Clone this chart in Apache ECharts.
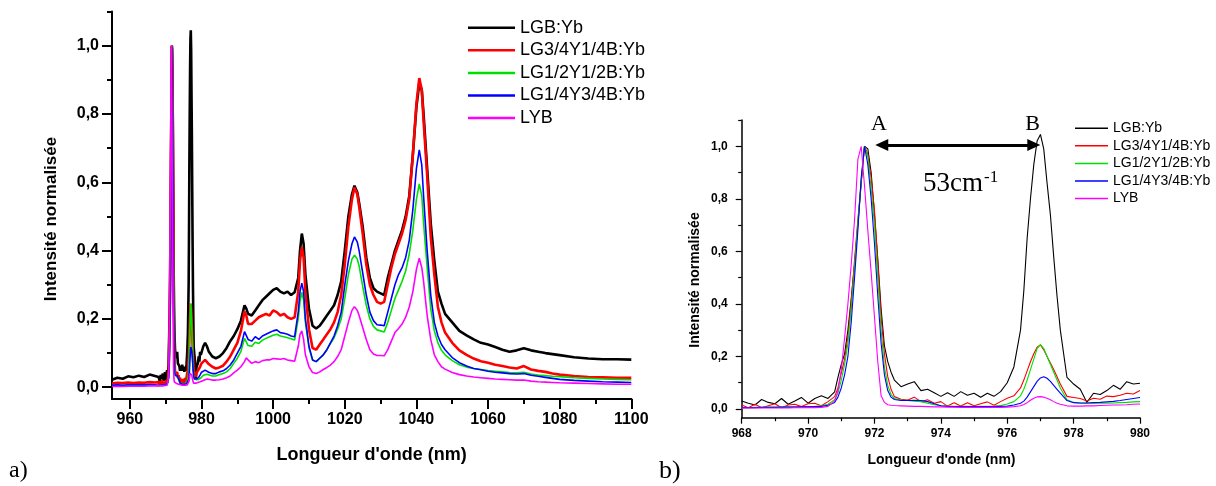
<!DOCTYPE html>
<html><head><meta charset="utf-8">
<script src="https://cdn.jsdelivr.net/npm/echarts@6/dist/echarts.min.js"></script>
<style>html,body{margin:0;padding:0;background:#fff}#c{width:1216px;height:486px}</style>
</head><body><div id="c"></div>
<script>
// ---------- DATA ----------
const wl = [
  955, 956.5, 958, 959.5, 961, 962.5, 964, 965.5, 967,
  968.0, 968.2, 968.4, 968.6, 968.8, 969.0, 969.2, 969.4, 969.6, 969.8, 970.0, 970.2, 970.4, 970.6, 970.8,
  970.9, 971.0, 971.1, 971.2, 971.3, 971.4, 971.5, 971.6, 971.7, 971.8, 971.9, 972.0, 972.1, 972.2, 972.3, 972.4, 972.5, 972.6,
  972.8, 973.0, 973.2, 973.4, 973.6, 973.8, 974.0, 974.2, 974.4, 974.6, 974.8, 975.0, 975.2, 975.4, 975.6, 975.8, 976.0, 976.2, 976.4,
  976.5, 976.6, 976.7, 976.8, 976.9, 977.0, 977.1, 977.2, 977.3, 977.4, 977.5, 977.6,
  977.8, 978.0, 978.2, 978.4, 978.6, 978.8, 979.0, 979.2, 979.4, 979.6, 979.8, 980.0,
  980.5, 981, 981.5, 982,
  983, 984, 985, 986, 987, 988, 989, 990, 991,
  992, 992.5,
  993, 994, 995, 996, 997, 998, 999, 1000, 1001, 1002, 1003, 1004, 1005, 1006, 1007,
  1007.5, 1008, 1008.5,
  1009, 1010, 1011, 1012, 1013, 1014, 1015, 1016, 1017, 1018, 1019, 1020, 1021, 1022,
  1022.7, 1023.5,
  1024, 1025, 1026, 1027, 1028, 1029, 1030, 1031, 1032, 1033, 1034, 1035, 1036, 1037, 1038, 1039, 1040,
  1040.8, 1041.5,
  1042, 1043, 1044, 1045, 1046, 1047, 1048,
  1050, 1052, 1054, 1056, 1058, 1060, 1062, 1064, 1066, 1068, 1070, 1072, 1074, 1076, 1078, 1080,
  1084, 1088, 1092, 1096, 1100
];

const lgb = [
  0.022, 0.028, 0.025, 0.032, 0.029, 0.034, 0.030, 0.037, 0.033,
  0.030, 0.022, 0.015, 0.036, 0.025, 0.020, 0.040, 0.018, 0.030, 0.044, 0.022, 0.040, 0.050, 0.040, 0.065,
  0.12, 0.17, 0.21, 0.30, 0.42, 0.55, 0.70, 0.86, 1.00, 0.99, 0.90, 0.74, 0.57, 0.38, 0.24, 0.18, 0.14, 0.11,
  0.085, 0.095, 0.104, 0.070, 0.075, 0.062, 0.048, 0.062, 0.048, 0.066, 0.052, 0.060, 0.045, 0.060, 0.048, 0.066, 0.100, 0.160, 0.300,
  0.45, 0.65, 0.80, 0.93, 1.02, 1.045, 0.99, 0.86, 0.74, 0.58, 0.43, 0.30,
  0.12, 0.095, 0.075, 0.025, 0.060, 0.055, 0.070, 0.090, 0.075, 0.104, 0.095, 0.098,
  0.12, 0.13, 0.12, 0.105,
  0.09, 0.085, 0.09, 0.10, 0.115, 0.135, 0.15, 0.17, 0.195,
  0.24, 0.23,
  0.215, 0.21, 0.225, 0.24, 0.255, 0.265, 0.275, 0.285, 0.29, 0.28, 0.275, 0.28, 0.27, 0.278, 0.32,
  0.40, 0.45, 0.42,
  0.33, 0.23, 0.18, 0.172, 0.18, 0.195, 0.21, 0.225, 0.24, 0.27, 0.31, 0.40, 0.50, 0.565,
  0.59, 0.57,
  0.54, 0.47, 0.38, 0.32, 0.29, 0.28, 0.275, 0.27, 0.32, 0.36, 0.40, 0.43, 0.46, 0.50, 0.56, 0.68, 0.82,
  0.89, 0.87,
  0.80, 0.64, 0.48, 0.37, 0.28, 0.245, 0.215,
  0.19, 0.165, 0.152, 0.14, 0.13, 0.125, 0.118, 0.11, 0.104, 0.108, 0.114, 0.108, 0.104, 0.10, 0.097, 0.094,
  0.088, 0.084, 0.082, 0.082, 0.081
];

const lg34 = [
  0.011, 0.013, 0.012, 0.014, 0.012, 0.014, 0.013, 0.015, 0.014,
  0.015, 0.005, 0.018, 0.005, 0.012, 0.020, 0.005, 0.015, 0.018, 0.009, 0.020, 0.022, 0.012, 0.028, 0.047,
  0.08, 0.136, 0.19, 0.275, 0.41, 0.567, 0.72, 0.86, 1.00, 0.97, 0.88, 0.757, 0.56, 0.35, 0.21, 0.123, 0.075, 0.047,
  0.037, 0.034, 0.045, 0.028, 0.035, 0.022, 0.028, 0.011, 0.024, 0.011, 0.024, 0.012, 0.020, 0.027, 0.014, 0.028, 0.041, 0.050, 0.080,
  0.11, 0.145, 0.18, 0.21, 0.235, 0.244, 0.225, 0.20, 0.175, 0.15, 0.123, 0.095,
  0.048, 0.044, 0.040, 0.030, 0.041, 0.037, 0.049, 0.047, 0.052, 0.060, 0.057, 0.070,
  0.075, 0.08, 0.075, 0.068,
  0.06, 0.055, 0.058, 0.063, 0.075, 0.09, 0.11, 0.13, 0.165,
  0.222, 0.21,
  0.185, 0.185, 0.195, 0.205, 0.21, 0.215, 0.21, 0.225, 0.22, 0.21, 0.215, 0.205, 0.20, 0.205, 0.28,
  0.37, 0.41, 0.38,
  0.28, 0.17, 0.115, 0.11, 0.125, 0.14, 0.155, 0.17, 0.19, 0.22, 0.27, 0.36, 0.47, 0.55,
  0.585, 0.565,
  0.53, 0.45, 0.36, 0.30, 0.27, 0.25, 0.245, 0.25, 0.30, 0.35, 0.39, 0.42, 0.45, 0.49, 0.55, 0.68, 0.83,
  0.905, 0.87,
  0.78, 0.62, 0.44, 0.33, 0.235, 0.19, 0.16,
  0.13, 0.108, 0.095, 0.084, 0.076, 0.072, 0.066, 0.062, 0.058, 0.055, 0.062, 0.052, 0.048, 0.045, 0.04, 0.037,
  0.033, 0.03, 0.029, 0.028, 0.028
];

const lg12 = [
  0.005, 0.006, 0.005, 0.006, 0.006, 0.006, 0.006, 0.007, 0.006,
  0.005, 0.005, 0.006, 0.006, 0.007, 0.007, 0.007, 0.008, 0.008, 0.008, 0.009, 0.010, 0.012, 0.018, 0.035,
  0.06, 0.11, 0.17, 0.25, 0.38, 0.54, 0.71, 0.87, 1.00, 0.96, 0.84, 0.70, 0.50, 0.30, 0.16, 0.09, 0.055, 0.04,
  0.034, 0.032, 0.030, 0.028, 0.022, 0.016, 0.012, 0.011, 0.010, 0.010, 0.010, 0.010, 0.010, 0.010, 0.011, 0.013, 0.019, 0.028, 0.050,
  0.075, 0.11, 0.15, 0.19, 0.23, 0.245, 0.23, 0.20, 0.17, 0.14, 0.11, 0.08,
  0.035, 0.025, 0.022, 0.022, 0.022, 0.022, 0.022, 0.023, 0.024, 0.025, 0.027, 0.028,
  0.035, 0.04, 0.038, 0.035,
  0.033, 0.033, 0.037, 0.04, 0.045, 0.055, 0.07, 0.085, 0.105,
  0.143, 0.14,
  0.122, 0.12, 0.132, 0.128, 0.138, 0.143, 0.148, 0.152, 0.155, 0.15, 0.148, 0.145, 0.142, 0.138, 0.20,
  0.25, 0.278, 0.255,
  0.19, 0.115, 0.08, 0.075, 0.085, 0.095, 0.11, 0.128, 0.145, 0.17, 0.20, 0.26, 0.33, 0.375,
  0.387, 0.375,
  0.355, 0.295, 0.24, 0.20, 0.178, 0.168, 0.165, 0.162, 0.19, 0.225, 0.26, 0.285, 0.31, 0.34, 0.39, 0.46, 0.55,
  0.595, 0.56,
  0.48, 0.35, 0.23, 0.165, 0.13, 0.108, 0.095,
  0.078, 0.066, 0.059, 0.055, 0.052, 0.049, 0.047, 0.045, 0.043, 0.042, 0.044, 0.039, 0.036, 0.034, 0.032, 0.031,
  0.028, 0.026, 0.024, 0.023, 0.022
];

const lg14 = [
  0.006, 0.007, 0.006, 0.007, 0.007, 0.007, 0.007, 0.008, 0.007,
  0.005, 0.005, 0.005, 0.006, 0.006, 0.006, 0.007, 0.007, 0.007, 0.008, 0.008, 0.009, 0.010, 0.014, 0.025,
  0.045, 0.08, 0.13, 0.20, 0.33, 0.50, 0.68, 0.88, 1.00, 0.93, 0.80, 0.63, 0.43, 0.25, 0.13, 0.07, 0.045, 0.036,
  0.032, 0.032, 0.033, 0.032, 0.028, 0.020, 0.012, 0.010, 0.009, 0.009, 0.009, 0.009, 0.009, 0.009, 0.009, 0.010, 0.011, 0.015, 0.022,
  0.030, 0.045, 0.065, 0.085, 0.105, 0.118, 0.123, 0.117, 0.105, 0.090, 0.075, 0.060,
  0.032, 0.024, 0.023, 0.023, 0.024, 0.025, 0.027, 0.029, 0.032, 0.036, 0.040, 0.044,
  0.045, 0.05, 0.048, 0.044,
  0.04, 0.04, 0.045, 0.048, 0.055, 0.065, 0.08, 0.10, 0.12,
  0.163, 0.16,
  0.14, 0.135, 0.148, 0.14, 0.15, 0.155, 0.16, 0.165, 0.168, 0.16, 0.158, 0.155, 0.15, 0.148, 0.22,
  0.28, 0.305, 0.28,
  0.20, 0.12, 0.08, 0.075, 0.085, 0.095, 0.11, 0.13, 0.15, 0.18, 0.22, 0.30, 0.37, 0.42,
  0.44, 0.425,
  0.40, 0.335, 0.27, 0.22, 0.195, 0.183, 0.182, 0.18, 0.22, 0.26, 0.30, 0.33, 0.35, 0.38, 0.43, 0.52, 0.64,
  0.695, 0.65,
  0.56, 0.40, 0.27, 0.19, 0.15, 0.125, 0.11,
  0.087, 0.072, 0.062, 0.055, 0.051, 0.047, 0.044, 0.042, 0.04, 0.039, 0.04, 0.035, 0.032, 0.029, 0.026, 0.023,
  0.02, 0.018, 0.016, 0.015, 0.014
];

const lyb = [
  0.002, 0.003, 0.002, 0.003, 0.003, 0.003, 0.003, 0.004, 0.004,
  0.004, 0.004, 0.004, 0.004, 0.004, 0.004, 0.004, 0.004, 0.005, 0.005, 0.005, 0.005, 0.006, 0.010, 0.030,
  0.07, 0.15, 0.27, 0.40, 0.55, 0.72, 0.95, 1.00, 0.85, 0.68, 0.52, 0.35, 0.18, 0.05, 0.025, 0.016, 0.014, 0.013,
  0.012, 0.011, 0.010, 0.010, 0.009, 0.008, 0.008, 0.007, 0.007, 0.006, 0.006, 0.006, 0.006, 0.006, 0.006, 0.006, 0.007, 0.009, 0.012,
  0.017, 0.024, 0.033, 0.041, 0.046, 0.047, 0.045, 0.041, 0.035, 0.028, 0.022, 0.018,
  0.012, 0.011, 0.011, 0.012, 0.012, 0.013, 0.014, 0.015, 0.015, 0.016, 0.018, 0.019,
  0.02, 0.024, 0.024, 0.022,
  0.021, 0.021, 0.022, 0.024, 0.028, 0.033, 0.042, 0.05, 0.06,
  0.075, 0.086,
  0.08, 0.07, 0.075, 0.072, 0.078, 0.08, 0.08, 0.084, 0.083, 0.082, 0.084, 0.08, 0.078, 0.076, 0.12,
  0.155, 0.165, 0.14,
  0.095, 0.06, 0.043, 0.04, 0.045, 0.052, 0.058, 0.065, 0.075, 0.09, 0.11, 0.15, 0.19, 0.225,
  0.236, 0.225,
  0.21, 0.175, 0.14, 0.11, 0.097, 0.093, 0.093, 0.092, 0.11, 0.135, 0.16, 0.172, 0.185, 0.205, 0.235, 0.28, 0.345,
  0.378, 0.35,
  0.31, 0.21, 0.14, 0.095, 0.075, 0.06, 0.053,
  0.043, 0.037, 0.033, 0.03, 0.028, 0.026, 0.024, 0.023, 0.022, 0.021, 0.021, 0.018, 0.016, 0.015, 0.014, 0.013,
  0.012, 0.011, 0.01, 0.009, 0.009
];

const seriesNames = ['LGB:Yb', 'LG3/4Y1/4B:Yb', 'LG1/2Y1/2B:Yb', 'LG1/4Y3/4B:Yb', 'LYB'];
const seriesValues = [lgb, lg34, lg12, lg14, lyb];

const yTicksMajor = [0, 0.2, 0.4, 0.6, 0.8, 1.0];
const yTicksMinor = [0.1, 0.3, 0.5, 0.7, 0.9, 1.1];
const xTicksA = [960, 980, 1000, 1020, 1040, 1060, 1080, 1100];
const xMinorA = [970, 990, 1010, 1030, 1050, 1070, 1090];
const xTicksB = [968, 970, 972, 974, 976, 978, 980];
const xMinorB = [969, 971, 973, 975, 977, 979];

const arrowFrom = 972.22, arrowTo = 976.80, arrowLevel = 1.005;

// ---------- CHART ----------
seriesValues.forEach((v, i) => { if (v.length !== wl.length) throw new Error('length mismatch ' + seriesNames[i] + ' ' + v.length + ' vs ' + wl.length); });

const colors = ['#000000', '#ff0000', '#00e000', '#0000ff', '#ff00ff'];
const SANS = '"Liberation Sans", Arial, sans-serif';
const SERIF = '"Liberation Serif", "Times New Roman", serif';
const fmtY = v => v.toFixed(1).replace('.', ',');

function pairs(vals, lo, hi) {
  const out = [];
  wl.forEach((x, i) => { if (x >= lo && x <= hi) out.push([x, vals[i]]); });
  return out;
}

function xAxes(grid, min, max, major, minor, opt) {
  return [{
    type: 'value', gridIndex: grid, min: min, max: max, position: 'bottom',
    axisLine: { show: true, onZero: false, lineStyle: { color: '#000', width: opt.lw } },
    axisTick: { show: true, inside: false, length: opt.tl, customValues: major, lineStyle: { color: '#000', width: opt.tw } },
    axisLabel: { show: true, customValues: major, margin: opt.margin, color: '#000', fontFamily: SANS, fontWeight: 'bold', fontSize: opt.fs, formatter: v => String(v) },
    splitLine: { show: false }
  }, {
    type: 'value', gridIndex: grid, min: min, max: max, position: 'bottom', offset: 0,
    axisLine: { show: false, onZero: false },
    axisTick: { show: true, inside: false, length: opt.ml, customValues: minor, lineStyle: { color: '#000', width: opt.tw } },
    axisLabel: { show: false },
    splitLine: { show: false }
  }];
}
function yAxes(grid, min, max, opt) {
  return [{
    type: 'value', gridIndex: grid, min: min, max: max, position: 'left',
    axisLine: { show: true, onZero: false, lineStyle: { color: '#000', width: opt.lw } },
    axisTick: { show: true, inside: false, length: opt.tl, customValues: yTicksMajor, lineStyle: { color: '#000', width: opt.tw } },
    axisLabel: { show: true, customValues: yTicksMajor, margin: opt.margin, color: '#000', fontFamily: SANS, fontWeight: 'bold', fontSize: opt.fs, formatter: fmtY },
    splitLine: { show: false }
  }, {
    type: 'value', gridIndex: grid, min: min, max: max, position: 'left', offset: 0,
    axisLine: { show: false, onZero: false },
    axisTick: { show: true, inside: false, length: opt.ml, customValues: yTicksMinor, lineStyle: { color: '#000', width: opt.tw } },
    axisLabel: { show: false },
    splitLine: { show: false }
  }];
}

const optA = { lw: 2, tl: 10, ml: 5, tw: 2, fs: 16, margin: 13 };
const optB = { lw: 1.5, tl: 6, ml: 3.5, tw: 1.2, fs: 12, margin: 10 };

const series = [];
seriesNames.forEach((name, i) => {
  series.push({
    type: 'line', name: name, xAxisIndex: 0, yAxisIndex: 0,
    data: pairs(seriesValues[i], 955, 1100),
    symbol: 'none', showSymbol: false, animation: false, clip: true,
    lineStyle: { color: colors[i], width: i < 2 ? 2.6 : 1.6 },
    itemStyle: { color: colors[i] },
    emphasis: { disabled: true }
  });
});
seriesNames.forEach((name, i) => {
  const s = {
    type: 'line', name: name, xAxisIndex: 2, yAxisIndex: 2,
    data: pairs(seriesValues[i], 968, 980),
    symbol: 'none', showSymbol: false, animation: false, clip: true,
    lineStyle: { color: colors[i], width: 1.1 },
    itemStyle: { color: colors[i] },
    emphasis: { disabled: true }
  };
  if (i === 0) {
    s.markLine = {
      silent: true, animation: false,
      symbol: ['triangle', 'triangle'], symbolSize: [12, 13],
      lineStyle: { color: '#000', width: 3, type: 'solid' },
      label: { show: false },
      data: [[{ coord: [arrowFrom, arrowLevel] }, { coord: [arrowTo, arrowLevel] }]]
    };
  }
  series.push(s);
});

const option = {
  backgroundColor: '#ffffff',
  animation: false,
  grid: [
    { left: 112, top: 11.5, width: 519.3, height: 387.5 },
    { left: 741.7, top: 120, width: 398.3, height: 297.7 }
  ],
  xAxis: [].concat(
    xAxes(0, 955, 1100, xTicksA, xMinorA, optA),
    xAxes(1, 968, 980, xTicksB, xMinorB, optB)
  ),
  yAxis: [].concat(
    yAxes(0, -0.0344, 1.1, optA),
    yAxes(1, -0.0332, 1.1, Object.assign({}, optB, { margin: 14 }))
  ),
  legend: [
    {
      data: seriesNames, orient: 'vertical', left: 463, top: 13.7,
      icon: 'rect', itemWidth: 47, itemHeight: 2.5, itemGap: 4.6,
      selectedMode: false,
      textStyle: { fontFamily: SANS, fontSize: 18, color: '#000' }
    },
    {
      data: seriesNames, orient: 'vertical', left: 1070, top: 116.2,
      icon: 'rect', itemWidth: 33, itemHeight: 1.5, itemGap: 3.6,
      selectedMode: false,
      textStyle: { fontFamily: SANS, fontSize: 14, color: '#000' }
    }
  ],
  graphic: [
    { type: 'text', x: 51, y: 219, rotation: Math.PI / 2,
      style: { text: 'Intensité normalisée', font: 'bold 17px ' + SANS, fill: '#000', align: 'center', verticalAlign: 'middle', textAlign: 'center', textVerticalAlign: 'middle' } },
    { type: 'text', x: 371.6, y: 455,
      style: { text: "Longueur d'onde (nm)", font: 'bold 18px ' + SANS, fill: '#000', align: 'center', verticalAlign: 'middle', textAlign: 'center', textVerticalAlign: 'middle' } },
    { type: 'text', x: 695.5, y: 280, rotation: Math.PI / 2,
      style: { text: 'Intensité normalisée', font: 'bold 14px ' + SANS, fill: '#000', align: 'center', verticalAlign: 'middle', textAlign: 'center', textVerticalAlign: 'middle' } },
    { type: 'text', x: 941.5, y: 460,
      style: { text: "Longueur d'onde (nm)", font: 'bold 14px ' + SANS, fill: '#000', align: 'center', verticalAlign: 'middle', textAlign: 'center', textVerticalAlign: 'middle' } },
    { type: 'text', x: 9, y: 471,
      style: { text: 'a)', font: '24px ' + SERIF, fill: '#000', align: 'left', verticalAlign: 'middle', textAlign: 'left', textVerticalAlign: 'middle' } },
    { type: 'text', x: 659, y: 471,
      style: { text: 'b)', font: '26px ' + SERIF, fill: '#000', align: 'left', verticalAlign: 'middle', textAlign: 'left', textVerticalAlign: 'middle' } },
    { type: 'text', x: 879, y: 124,
      style: { text: 'A', font: '22px ' + SERIF, fill: '#000', align: 'center', verticalAlign: 'middle', textAlign: 'center', textVerticalAlign: 'middle' } },
    { type: 'text', x: 1032.5, y: 124,
      style: { text: 'B', font: '22px ' + SERIF, fill: '#000', align: 'center', verticalAlign: 'middle', textAlign: 'center', textVerticalAlign: 'middle' } },
    { type: 'text', x: 923, y: 183.5,
      style: { text: '53cm', font: '27px ' + SERIF, fill: '#000', align: 'left', verticalAlign: 'middle', textAlign: 'left', textVerticalAlign: 'middle' } },
    { type: 'text', x: 984, y: 177.5,
      style: { text: '-1', font: '17px ' + SERIF, fill: '#000', align: 'left', verticalAlign: 'middle', textAlign: 'left', textVerticalAlign: 'middle' } }
  ],
  series: series
};

const chart = echarts.init(document.getElementById('c'), null, { renderer: 'canvas' });
chart.setOption(option);
</script>
</body></html>
